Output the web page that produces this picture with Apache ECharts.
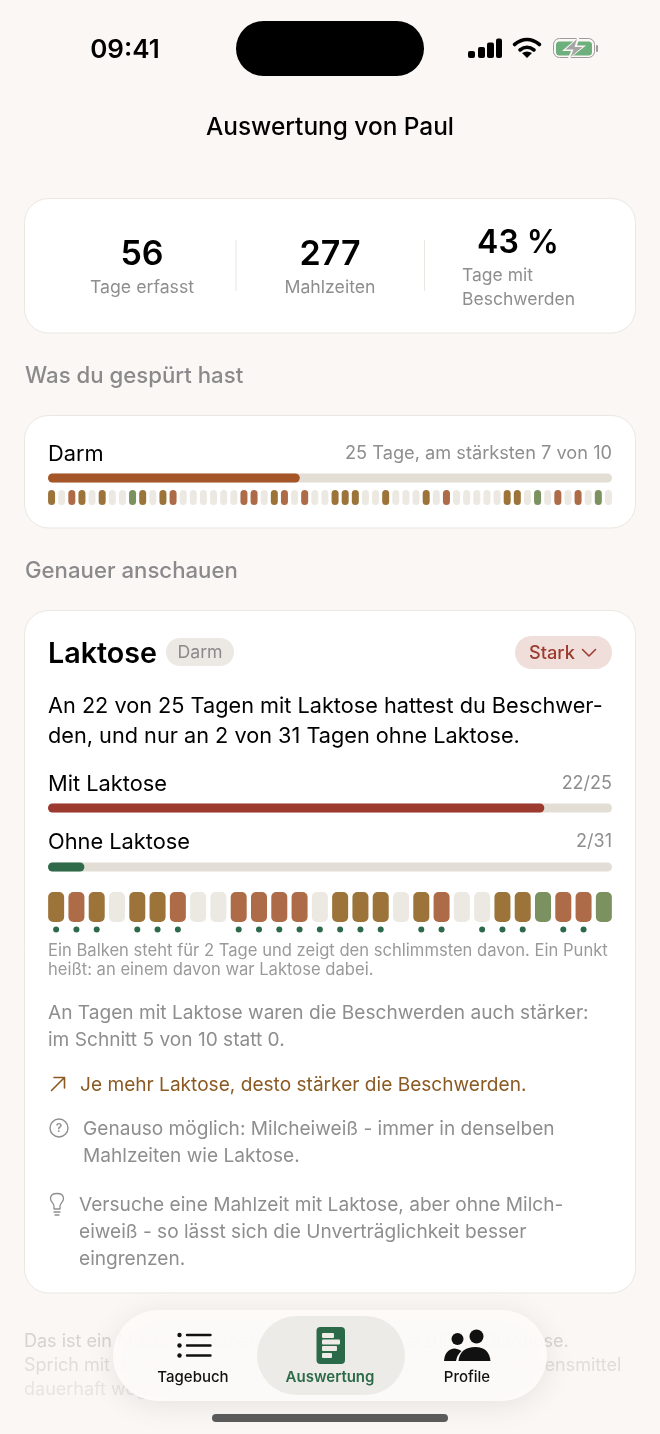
<!DOCTYPE html>
<html>
<head>
<meta charset="utf-8">
<style>
html, body { margin: 0; padding: 0; background: #fbf7f4; }
#main { width: 660px; height: 1434px; }
</style>
<script src="https://cdn.jsdelivr.net/npm/echarts@6/dist/echarts.min.js"></script>
</head>
<body>
<div id="main"></div>
<script>
// strongest complaint per day, 0 = nothing
var darmDays = [4,0,7,4,0,4,0,0,2,4,0,4,7,0,0,0,0,0,0,7,7,0,4,7,0,7,0,0,
                4,4,4,0,0,4,0,0,0,4,0,7,0,0,0,0,0,4,4,0,2,0,7,0,7,0,2,0];
// one bar = 2 days, worst of the two
var laktoseBars = [4,7,4,0,4,4,7,0,0,7,7,7,7,0,4,4,4,0,4,7,0,0,4,4,2,7,7,2];
// 1 = a dot under the bar, lactose on one of the days
var laktoseDots = [1,1,1,0,1,1,1,0,0,1,1,1,1,1,1,1,1,0,1,1,0,1,1,1,0,1,1,0];
var darmTotal = [25, 56];
var mitLaktose = [22, 25];
var ohneLaktose = [2, 31];
var levelColors = {0: '#ecE9e3', 2: '#7b9160', 4: '#9c7339', 7: '#ae6b47'};

var FONT = 'Inter, "Noto Sans", sans-serif';
var GRAY = '#8e8e8e';

function text(x, y, str, size, color, weight, align, z) {
    return {
        type: 'text', z: z || 5, silent: true, x: x, y: y + 2,
        style: {
            text: str, fontFamily: FONT, fontSize: size, fill: color || '#000',
            fontWeight: weight || 400, textAlign: align || 'left', textVerticalAlign: 'middle'
        }
    };
}
function box(x, y, w, h, r, fill, stroke, z) {
    return {
        type: 'rect', z: z || 1, silent: true,
        shape: {x: x, y: y, width: w, height: h, r: r},
        style: {fill: fill, stroke: stroke || null, lineWidth: stroke ? 1 : 0}
    };
}
// the graphic component has no path type, so every icon path gets its own shape
var shapeCount = 0;
function shapeFrom(d) {
    var name = 'icon' + (shapeCount++);
    echarts.graphic.registerShape(name, echarts.graphic.extendPath(d));
    return name;
}
function line(d, color, width, z) {
    return {
        type: shapeFrom(d), z: z || 5, silent: true,
        style: {fill: 'none', stroke: color, lineWidth: width, lineCap: 'round', lineJoin: 'round'}
    };
}
function solid(d, color, z) {
    return {type: shapeFrom(d), z: z || 5, silent: true, style: {fill: color}};
}
function disc(cx, cy, r, color, z) {
    return {type: 'circle', z: z || 5, silent: true, shape: {cx: cx, cy: cy, r: r}, style: {fill: color}};
}

// progress bars and strips
var grids = [], xAxes = [], yAxes = [], series = [];

function addProgress(top, pair, color) {
    var i = grids.length;
    grids.push({left: 48, width: 564, top: top, height: 9});
    xAxes.push({gridIndex: i, type: 'value', min: 0, max: pair[1], show: false});
    yAxes.push({gridIndex: i, type: 'category', data: [''], show: false});
    series.push({
        type: 'bar', xAxisIndex: i, yAxisIndex: i, data: [pair[0]], barWidth: '100%', silent: true,
        showBackground: true,
        backgroundStyle: {color: '#e3ded5', borderRadius: 4.5},
        itemStyle: {color: color, borderRadius: 4.5}
    });
}
function addStrip(left, width, top, height, values, barWidth, radius) {
    var i = grids.length;
    grids.push({left: left, width: width, top: top, height: height});
    xAxes.push({gridIndex: i, type: 'category', data: values.map(function (v, k) { return k; }), show: false});
    yAxes.push({gridIndex: i, type: 'value', min: 0, max: 1, show: false});
    series.push({
        type: 'bar', xAxisIndex: i, yAxisIndex: i, barWidth: barWidth, silent: true,
        data: values.map(function (v) {
            return {value: 1, itemStyle: {color: levelColors[v], borderRadius: radius}};
        })
    });
}

addProgress(473.5, darmTotal, '#a45628');
addStrip(46.5, 567, 490, 15, darmDays, 7, 3.5);
addProgress(803.5, mitLaktose, '#9c3a30');
addProgress(862.5, ohneLaktose, '#2f6b4a');
addStrip(46, 568, 892, 30, laktoseBars, 16, 5);

// dots under the lactose strip
var dotGrid = grids.length;
grids.push({left: 46, width: 568, top: 926, height: 7});
xAxes.push({gridIndex: dotGrid, type: 'category', data: laktoseDots.map(function (v, k) { return k; }), show: false});
yAxes.push({gridIndex: dotGrid, type: 'value', min: 0, max: 1, show: false});
series.push({
    type: 'scatter', xAxisIndex: dotGrid, yAxisIndex: dotGrid, symbolSize: 6, silent: true,
    itemStyle: {color: '#2d6a4c', opacity: 1},
    data: laktoseDots.map(function (v, k) { return v ? [k, 0.5] : null; }).filter(Boolean)
});

var graphics = [
    // status bar
    text(125, 48, '09:41', 26, '#000', 600, 'center'),
    box(236, 21, 188, 55, 27.5, '#000', null, 5),
    box(468, 51, 7, 7, 2, '#000', null, 5),
    box(478, 47, 7, 11, 2, '#000', null, 5),
    box(487, 42.5, 7, 15.5, 2, '#000', null, 5),
    box(496, 38.5, 6, 19.5, 2, '#000', null, 5),
    line('M514.5,44.5 Q527,34.5 539.5,44.5', '#000', 3.6),
    line('M520,50 Q527,44.5 534,50', '#000', 3.6),
    solid('M527,58 L522,53 Q527,50 532,53 Z', '#000'),
    box(553.5, 38.5, 41, 19, 6, 'none', '#9b9b9b', 5),
    box(556, 41.5, 36, 14, 3.5, '#6db07e', null, 5),
    box(596, 45, 2, 7, 1, '#9b9b9b', null, 5),
    solid('M580,35.5 L562,51 L571,51 L567,60.5 L586,45.5 L577,45.5 Z', '#fbf7f4', 6),
    solid('M577,39 L565.5,49.5 L573.5,49.5 L570.5,57 L582.5,47 L574.5,47 Z', '#a5a5a5', 7),

    text(330, 125.5, 'Auswertung von Paul', 24.4, '#000', 500, 'center'),

    // summary card
    box(24.5, 198.5, 611, 134.5, 24, '#fff', '#ebe7e1'),
    text(142, 253, '56', 34, '#000', 600, 'center'),
    text(330, 253, '277', 34, '#000', 600, 'center'),
    text(518, 241.5, '43 %', 32, '#000', 600, 'center'),
    text(142, 285.5, 'Tage erfasst', 17.7, GRAY, 400, 'center'),
    text(330, 285.5, 'Mahlzeiten', 17.7, GRAY, 400, 'center'),
    text(462, 274, 'Tage mit', 17.5, GRAY),
    text(462, 298, 'Beschwerden', 17.5, GRAY),
    box(235.5, 240, 1, 51, 0, '#ebe8e3'),
    box(424, 240, 1, 51, 0, '#ebe8e3'),

    text(25, 374, 'Was du gespürt hast', 22.2, '#8a8a8c', 500),

    // Darm card
    box(24.5, 415.5, 611, 112.5, 24, '#fff', '#ebe7e1'),
    text(48, 452, 'Darm', 21.8, '#000'),
    text(612, 452, '25 Tage, am stärksten 7 von 10', 18.2, GRAY, 400, 'right'),

    text(25, 569, 'Genauer anschauen', 22.2, '#8a8a8c', 500),

    // Laktose card
    box(24.5, 610.5, 611, 682.5, 24, '#fff', '#ebe7e1'),
    text(48, 652, 'Laktose', 28.7, '#000', 600),
    box(166, 638, 68, 28, 14, '#ece9e4'),
    text(200, 651, 'Darm', 17.7, '#8a8a8a', 400, 'center'),
    box(515, 636, 97, 33, 16.5, '#f0dedb'),
    text(529, 652, 'Stark', 18.2, '#9c3a2e', 500),
    line('M582.5,649.5 L589,656 L595.5,649.5', '#9c3a2e', 1.5),
    text(48, 704, 'An 22 von 25 Tagen mit Laktose hattest du Beschwer-', 21.7, '#000'),
    text(48, 734, 'den, und nur an 2 von 31 Tagen ohne Laktose.', 21.7, '#000'),
    text(48, 782, 'Mit Laktose', 21.8, '#000'),
    text(612, 782, '22/25', 18, GRAY, 400, 'right'),
    text(48, 840, 'Ohne Laktose', 21.8, '#000'),
    text(612, 840, '2/31', 18, GRAY, 400, 'right'),
    text(48, 949, 'Ein Balken steht für 2 Tage und zeigt den schlimmsten davon. Ein Punkt', 16.6, '#9a9a9a'),
    text(48, 968, 'heißt: an einem davon war Laktose dabei.', 16.6, '#9a9a9a'),
    text(48, 1011, 'An Tagen mit Laktose waren die Beschwerden auch stärker:', 19.1, GRAY),
    text(48, 1038, 'im Schnitt 5 von 10 statt 0.', 19.1, GRAY),
    line('M51.5,1090.5 L64.5,1077.5 M54,1077.5 L64.5,1077.5 L64.5,1088', '#8b5a23', 1.6),
    text(80, 1083, 'Je mehr Laktose, desto stärker die Beschwerden.', 19.1, '#8b5a23'),
    {
        type: 'circle', z: 5, silent: true, shape: {cx: 59, cy: 1128, r: 9},
        style: {fill: 'none', stroke: GRAY, lineWidth: 1.4}
    },
    text(59, 1126.5, '?', 12, GRAY, 600, 'center'),
    text(83, 1127, 'Genauso möglich: Milcheiweiß - immer in denselben', 19.1, GRAY),
    text(83, 1154, 'Mahlzeiten wie Laktose.', 19.1, GRAY),
    line('M54,1209 L54,1206 C54,1203 50.5,1202 50.5,1198.5 C50.5,1195 53.5,1193.5 57,1193.5 C60.5,1193.5 63.5,1195 63.5,1198.5 C63.5,1202 60,1203 60,1206 L60,1209 Z', GRAY, 1.3),
    line('M54,1212 L60,1212 M55,1215 L59,1215', GRAY, 1.3),
    text(79, 1203, 'Versuche eine Mahlzeit mit Laktose, aber ohne Milch-', 19.1, GRAY),
    text(79, 1230, 'eiweiß - so lässt sich die Unverträglichkeit besser', 19.1, GRAY),
    text(79, 1257, 'eingrenzen.', 19.1, GRAY),

    // note that scrolls behind the tab bar
    text(24, 1339.5, 'Das ist ein Muster in deinen Einträgen, keine ärztliche Diagnose.', 18, '#d6d3d0'),
    text(24, 1363.5, 'Sprich mit deiner Ärztin oder dem Hausarzt, bevor du ein Lebensmittel', 18, '#e0dddb'),
    text(24, 1387.5, 'dauerhaft weglässt.', 18, '#e7e5e2'),

    // tab bar
    {
        type: 'rect', z: 8, silent: true,
        shape: {x: 113, y: 1310, width: 434, height: 91, r: 45.5},
        style: {fill: 'rgba(253,251,249,0.95)', shadowBlur: 30, shadowColor: 'rgba(0,0,0,0.09)', shadowOffsetY: 4}
    },
    box(257, 1316, 148, 79, 39.5, 'rgba(236,233,229,0.93)', null, 9),
    disc(179.5, 1335, 2.2, '#111', 10),
    disc(179.5, 1345.5, 2.2, '#111', 10),
    disc(179.5, 1355.5, 2.2, '#111', 10),
    line('M187,1335 L210.5,1335 M187,1345.5 L210.5,1345.5 M187,1355.5 L210.5,1355.5', '#111', 2.4, 10),
    box(316.5, 1327, 28.5, 37, 4, '#2b6a48', null, 10),
    box(322, 1333, 12, 5, 1, '#efece7', null, 11),
    box(322, 1339.5, 18, 5, 1, '#efece7', null, 11),
    box(322, 1346, 15, 5, 1, '#efece7', null, 11),
    box(322, 1353, 10, 5, 1, '#efece7', null, 11),
    disc(457.5, 1339, 6, '#111', 10),
    disc(476.5, 1336.5, 7, '#111', 10),
    solid('M444,1361 Q445,1349 455,1348.5 Q459,1349 461.5,1351 Q457,1355 456,1361 Z', '#111', 10),
    solid('M458.5,1361 Q460,1347 475.5,1347 Q489,1347 490.5,1361 Z', '#111', 10),
    text(193, 1375.5, 'Tagebuch', 15, '#111', 500, 'center', 12),
    text(330, 1375.5, 'Auswertung', 15, '#2b6a48', 600, 'center', 12),
    text(467, 1375.5, 'Profile', 15, '#111', 500, 'center', 12),
    box(212, 1414, 236, 8, 4, '#5c5c5c', null, 5)
];

var dom = document.getElementById('main');
var myChart = echarts.init(dom);
var option = {
    backgroundColor: '#fbf7f4',
    animation: false,
    grid: grids,
    xAxis: xAxes,
    yAxis: yAxes,
    series: series,
    graphic: {elements: graphics}
};
myChart.setOption(option, true);
</script>
</body>
</html>
